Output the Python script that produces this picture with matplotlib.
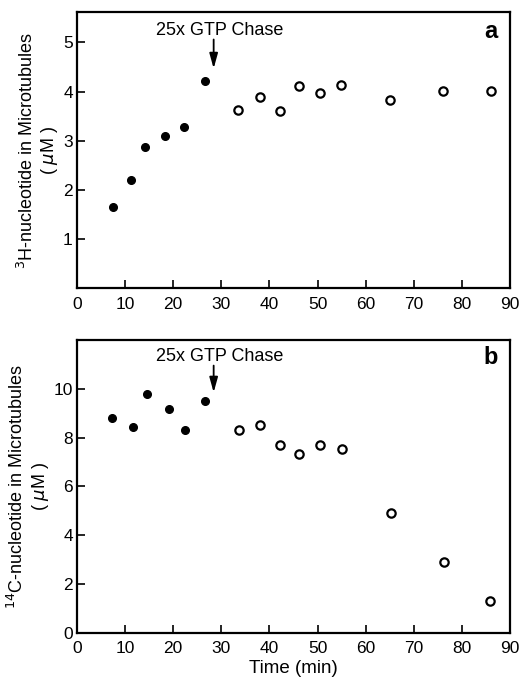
import matplotlib
matplotlib.use("Agg")
import matplotlib.pyplot as plt

plt.rcParams['font.family'] = ['Liberation Sans', 'DejaVu Sans']

# Panel a: 3H-nucleotide in microtubules
time_a_pre = [7.4, 11.3, 14.2, 18.3, 22.3, 26.5]
h3_pre = [1.66, 2.20, 2.88, 3.09, 3.29, 4.21]
time_a_post = [33.4, 38.1, 42.1, 46.1, 50.6, 54.9, 65.0, 76.0, 86.1]
h3_post = [3.63, 3.90, 3.61, 4.12, 3.97, 4.14, 3.82, 4.02, 4.02]

# Panel b: 14C-nucleotide in microtubules
time_b_pre = [7.2, 11.6, 14.5, 19.1, 22.5, 26.6]
c14_pre = [8.82, 8.43, 9.78, 9.18, 8.32, 9.52]
time_b_post = [33.6, 38.1, 42.2, 46.1, 50.6, 55.0, 65.3, 76.2, 85.9]
c14_post = [8.30, 8.51, 7.69, 7.33, 7.69, 7.54, 4.91, 2.91, 1.31]

x_ticks = [0, 10, 20, 30, 40, 50, 60, 70, 80, 90]
y_ticks_a = [1, 2, 3, 4, 5]
y_ticks_b = [0, 2, 4, 6, 8, 10]

chase_label = "25x GTP Chase"
chase_time = 28.4

fig = plt.figure(figsize=(5.19, 6.84), dpi=100)
ax_a = fig.add_axes([0.1484, 0.5785, 0.8343, 0.4040])
ax_b = fig.add_axes([0.1484, 0.0746, 0.8343, 0.4284])


def style(ax, ylim, yticks):
    ax.set_xlim(0, 90)
    ax.set_ylim(*ylim)
    ax.set_xticks(x_ticks)
    ax.set_yticks(yticks)
    ax.tick_params(direction='in', length=6, width=1.2, labelsize=12.5,
                   colors='black')
    ax.tick_params(axis='x', pad=6)
    ax.tick_params(axis='y', pad=3)
    for s in ax.spines.values():
        s.set_linewidth(1.6)


def points(ax, xf, yf, xo, yo):
    ax.plot(xf, yf, 'o', color='black', markersize=5.5, clip_on=False)
    ax.plot(xo, yo, 'o', markerfacecolor='white', markeredgecolor='black',
            markeredgewidth=1.6, markersize=6, clip_on=False)


def chase(ax, y_tail, y_head, y_text):
    ax.annotate('', xy=(chase_time, y_head), xytext=(chase_time, y_tail),
                arrowprops=dict(arrowstyle='-|>,head_length=0.9,head_width=0.25',
                                color='black', lw=1.3, shrinkA=0, shrinkB=0))
    ax.text(29.6, y_text, chase_label, ha='center', va='center', fontsize=13)


style(ax_a, (0, 5.62), y_ticks_a)
points(ax_a, time_a_pre, h3_pre, time_a_post, h3_post)
chase(ax_a, 5.06, 4.47, 5.24)
ax_a.text(87.5, 5.22, 'a', ha='right', va='center', fontsize=17,
          fontweight='heavy')
ax_a.set_ylabel('$^{3}$H-nucleotide in Microtubules\n( $\\mu$M )',
                fontsize=13, linespacing=1.15, labelpad=2)

style(ax_b, (0, 12.0), y_ticks_b)
points(ax_b, time_b_pre, c14_pre, time_b_post, c14_post)
chase(ax_b, 10.95, 9.85, 11.33)
ax_b.text(87.5, 11.3, 'b', ha='right', va='center', fontsize=17,
          fontweight='heavy')
ax_b.set_ylabel('$^{14}$C-nucleotide in Microtubules\n( $\\mu$M )',
                fontsize=13, linespacing=1.15, labelpad=2)
ax_b.set_xlabel('Time (min)', fontsize=13.5, labelpad=3)

fig.savefig('out.png', dpi=100)
